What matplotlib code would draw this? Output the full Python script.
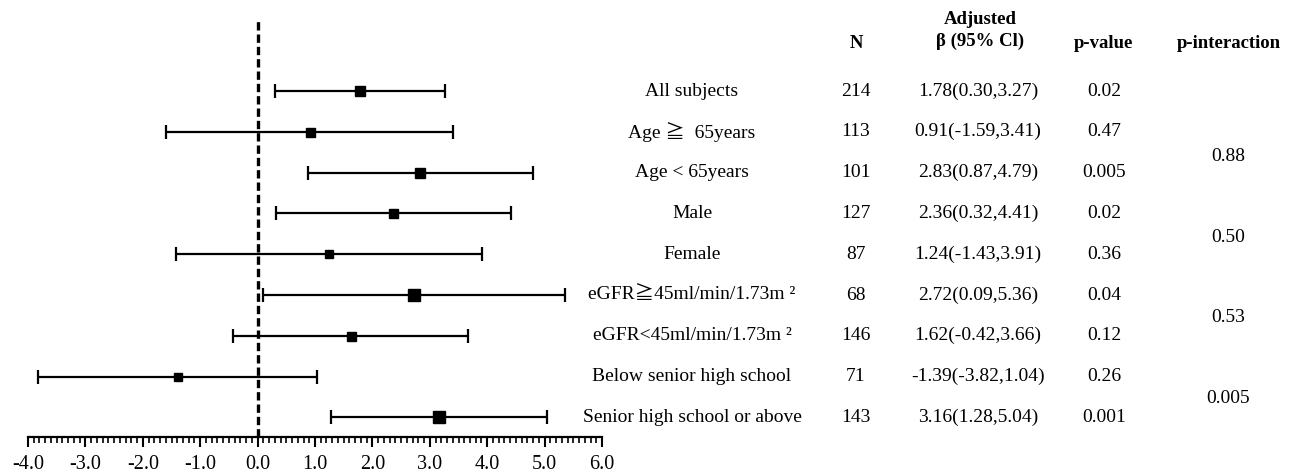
import matplotlib.pyplot as plt
import matplotlib.transforms as mtransforms
from matplotlib.ticker import MultipleLocator, FormatStrFormatter

plt.rcParams['font.family'] = ['Liberation Serif', 'Noto Sans CJK JP', 'DejaVu Serif']

# data
groups = ['All subjects', 'Age \u2267  65years', 'Age < 65years', 'Male', 'Female',
          'eGFR\u226745ml/min/1.73m \u00b2', 'eGFR<45ml/min/1.73m \u00b2',
          'Below senior high school', 'Senior high school or above']
n_vals = [214, 113, 101, 127, 87, 68, 146, 71, 143]
beta = [1.78, 0.91, 2.83, 2.36, 1.24, 2.72, 1.62, -1.39, 3.16]
ci_low = [0.30, -1.59, 0.87, 0.32, -1.43, 0.09, -0.42, -3.82, 1.28]
ci_high = [3.27, 3.41, 4.79, 4.41, 3.91, 5.36, 3.66, 1.04, 5.04]
p_vals = ['0.02', '0.47', '0.005', '0.02', '0.36', '0.04', '0.12', '0.26', '0.001']
p_inter = ['0.88', '0.50', '0.53', '0.005']

# marker sizes (px) for each row
box_px = [10, 9, 10, 9, 8, 12, 9, 8, 12]

W, H = 1295, 474
fig = plt.figure(figsize=(W / 100, H / 100), dpi=100)

def fx(px):
    return px / W

def fy(py):
    return 1 - py / H

ax = fig.add_axes([fx(28), fy(437), fx(602) - fx(28), fy(20) - fy(437)])

row0, step = 91, 40.8
ax.set_xlim(-4, 6)
ax.set_ylim((437 - row0) / step, (20 - row0) / step)

rows = list(range(len(groups)))
for i in rows:
    ax.errorbar(beta[i], i, xerr=[[beta[i] - ci_low[i]], [ci_high[i] - beta[i]]],
                fmt='s', color='black', ecolor='black', elinewidth=1.6,
                capsize=5, capthick=1.6, markersize=box_px[i] * 0.72, zorder=3)

ax.axvline(0, color='black', lw=2.4, ls=(0, (2.5, 1.2)), zorder=2)

for s in ['top', 'right', 'left']:
    ax.spines[s].set_visible(False)
ax.spines['bottom'].set_linewidth(1.6)
ax.set_yticks([])
ax.xaxis.set_major_locator(MultipleLocator(1))
ax.xaxis.set_minor_locator(MultipleLocator(0.1))
ax.xaxis.set_major_formatter(FormatStrFormatter('%.1f'))
ax.tick_params(axis='x', which='major', length=7, width=1.5, labelsize=14.5, pad=6)
ax.tick_params(axis='x', which='minor', length=4, width=1.2)

trans = mtransforms.blended_transform_factory(fig.transFigure, ax.transData)
fs = 14
for i in rows:
    ax.text(fx(692), i, groups[i], transform=trans, ha='center', va='center', fontsize=fs)
    ax.text(fx(856), i, str(n_vals[i]), transform=trans, ha='center', va='center', fontsize=fs)
    ax.text(fx(978), i, '%.2f(%.2f,%.2f)' % (beta[i], ci_low[i], ci_high[i]),
            transform=trans, ha='center', va='center', fontsize=fs)
    ax.text(fx(1104), i, p_vals[i], transform=trans, ha='center', va='center', fontsize=fs)

for k, pv in enumerate(p_inter):
    ax.text(fx(1228), 1.6 + 1.98 * k, pv, transform=trans, ha='center', va='center', fontsize=fs)

hfs = 13.5
fig.text(fx(856), fy(43), 'N', ha='center', va='center', fontsize=hfs, weight='bold')
fig.text(fx(980), fy(20), 'Adjusted', ha='center', va='center', fontsize=hfs, weight='bold')
fig.text(fx(980), fy(41), '\u03b2 (95% Cl)', ha='center', va='center', fontsize=hfs, weight='bold')
fig.text(fx(1103), fy(43), 'p-value', ha='center', va='center', fontsize=hfs, weight='bold')
fig.text(fx(1229), fy(43), 'p-interaction', ha='center', va='center', fontsize=hfs, weight='bold')

plt.savefig('out.png', dpi=100)
